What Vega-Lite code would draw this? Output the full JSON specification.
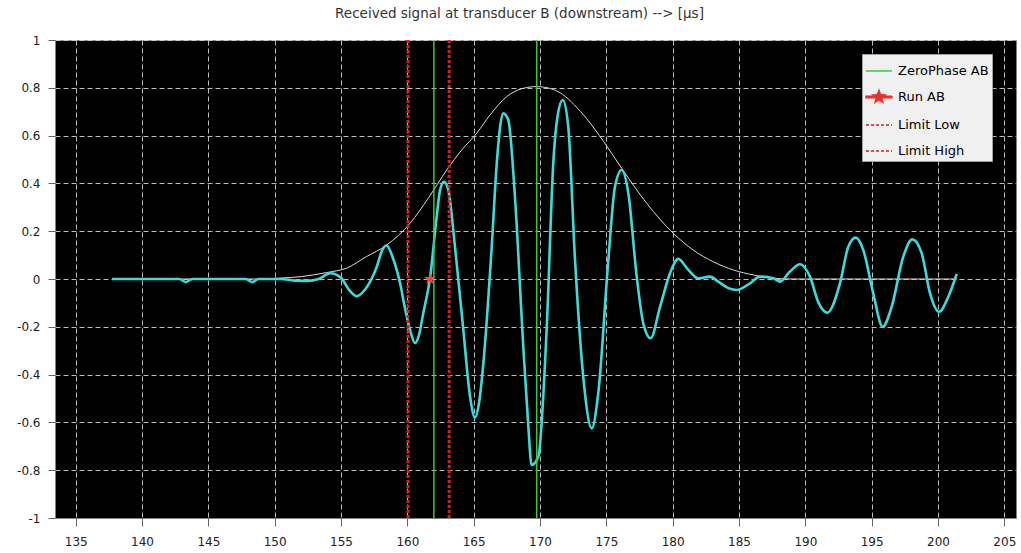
{
  "$schema": "https://vega.github.io/schema/vega-lite/v6.json",
  "width": 961,
  "height": 478,
  "autosize": {"type": "none"},
  "padding": {"left": 55, "top": 40, "right": 5, "bottom": 35},
  "background": "#ffffff",
  "title": {
    "text": "Received signal at transducer B (downstream) --> [µs]",
    "font": "DejaVu Sans",
    "fontSize": 13.5,
    "fontWeight": "normal",
    "color": "#333333",
    "offset": 14,
    "dx": -16,
    "anchor": "middle"
  },
  "config": {
    "view": {"fill": "#000000", "stroke": "#808080"},
    "axis": {
      "labelFont": "DejaVu Sans",
      "labelFontSize": 12,
      "labelColor": "#222222",
      "domainColor": "#808080",
      "tickColor": "#606060",
      "gridColor": "#d0d0d0",
      "gridDash": [5, 3],
      "gridWidth": 1,
      "gridOpacity": 0.9,
      "labelOverlap": false,
      "labelFlush": false,
      "labelBound": false
    }
  },
  "datasets": {
    "signal": [
      {"t": 137.74, "v": 0}, {"t": 142.8, "v": 0}, {"t": 143.3, "v": -0.013}, {"t": 143.8, "v": 0},
      {"t": 147.8, "v": 0}, {"t": 148.3, "v": -0.013}, {"t": 148.8, "v": 0}, {"t": 150.5, "v": 0},
      {"t": 151.5, "v": -0.007}, {"t": 152.5, "v": -0.008}, {"t": 153.3, "v": 0}, {"t": 154.2, "v": 0.024},
      {"t": 155.0, "v": 0.005}, {"t": 155.6, "v": -0.045}, {"t": 156.18, "v": -0.072}, {"t": 156.8, "v": -0.045},
      {"t": 157.3, "v": 0.0}, {"t": 157.69, "v": 0.05}, {"t": 158.1, "v": 0.12}, {"t": 158.44, "v": 0.14},
      {"t": 158.9, "v": 0.09}, {"t": 159.45, "v": -0.017}, {"t": 159.85, "v": -0.13}, {"t": 160.2, "v": -0.213},
      {"t": 160.58, "v": -0.268}, {"t": 160.85, "v": -0.24}, {"t": 161.2, "v": -0.143}, {"t": 161.71, "v": 0.004},
      {"t": 162.21, "v": 0.26}, {"t": 162.46, "v": 0.37}, {"t": 162.76, "v": 0.407}, {"t": 163.09, "v": 0.372},
      {"t": 163.59, "v": 0.135}, {"t": 164.22, "v": -0.213}, {"t": 164.7, "v": -0.48}, {"t": 165.1, "v": -0.58},
      {"t": 165.4, "v": -0.52}, {"t": 165.73, "v": -0.353}, {"t": 166.36, "v": 0.135}, {"t": 166.74, "v": 0.484},
      {"t": 167.0, "v": 0.64}, {"t": 167.23, "v": 0.693}, {"t": 167.61, "v": 0.665}, {"t": 168.11, "v": 0.344},
      {"t": 168.74, "v": -0.283}, {"t": 169.1, "v": -0.6}, {"t": 169.37, "v": -0.778}, {"t": 169.87, "v": -0.744},
      {"t": 170.5, "v": -0.213}, {"t": 171.0, "v": 0.484}, {"t": 171.35, "v": 0.69}, {"t": 171.71, "v": 0.749},
      {"t": 172.13, "v": 0.637}, {"t": 172.64, "v": 0.079}, {"t": 173.26, "v": -0.409}, {"t": 173.9, "v": -0.625},
      {"t": 174.39, "v": -0.478}, {"t": 175.15, "v": 0.079}, {"t": 175.65, "v": 0.386}, {"t": 176.16, "v": 0.456},
      {"t": 176.66, "v": 0.358}, {"t": 177.29, "v": 0.01}, {"t": 177.8, "v": -0.19}, {"t": 178.34, "v": -0.248},
      {"t": 179.05, "v": -0.116}, {"t": 179.8, "v": 0.024}, {"t": 180.42, "v": 0.084}, {"t": 181.18, "v": 0.038},
      {"t": 181.93, "v": 0.003}, {"t": 182.81, "v": 0.01}, {"t": 183.44, "v": -0.011}, {"t": 184.2, "v": -0.038},
      {"t": 184.83, "v": -0.046}, {"t": 185.83, "v": -0.018}, {"t": 186.58, "v": 0.01}, {"t": 187.59, "v": 0.003},
      {"t": 188.09, "v": -0.011}, {"t": 188.84, "v": 0.031}, {"t": 189.6, "v": 0.062}, {"t": 190.35, "v": 0.01},
      {"t": 191.0, "v": -0.1}, {"t": 191.66, "v": -0.141}, {"t": 192.61, "v": -0.018}, {"t": 193.24, "v": 0.135},
      {"t": 193.8, "v": 0.173}, {"t": 194.37, "v": 0.121}, {"t": 195.12, "v": -0.06}, {"t": 195.83, "v": -0.2},
      {"t": 196.51, "v": -0.116}, {"t": 197.38, "v": 0.093}, {"t": 198.06, "v": 0.166}, {"t": 198.77, "v": 0.108},
      {"t": 199.4, "v": -0.06}, {"t": 200.08, "v": -0.137}, {"t": 200.78, "v": -0.074}, {"t": 201.41, "v": 0.021}
    ],
    "envelope": [
      {"t": 137.74, "v": 0}, {"t": 149.0, "v": 0}, {"t": 150.5, "v": 0.004}, {"t": 152.0, "v": 0.01},
      {"t": 153.9, "v": 0.027}, {"t": 155.4, "v": 0.045}, {"t": 156.9, "v": 0.093}, {"t": 158.44, "v": 0.142},
      {"t": 160.2, "v": 0.233}, {"t": 161.6, "v": 0.34}, {"t": 162.97, "v": 0.456}, {"t": 164.1, "v": 0.54},
      {"t": 165.23, "v": 0.61}, {"t": 166.23, "v": 0.686}, {"t": 167.49, "v": 0.763}, {"t": 168.74, "v": 0.798},
      {"t": 169.75, "v": 0.805}, {"t": 171.0, "v": 0.793}, {"t": 171.71, "v": 0.772}, {"t": 172.6, "v": 0.728},
      {"t": 173.5, "v": 0.672}, {"t": 174.8, "v": 0.575}, {"t": 176.16, "v": 0.463}, {"t": 178.04, "v": 0.317},
      {"t": 180.05, "v": 0.191}, {"t": 181.55, "v": 0.121}, {"t": 183.06, "v": 0.072}, {"t": 184.57, "v": 0.038},
      {"t": 186.08, "v": 0.017}, {"t": 187.59, "v": 0.003}, {"t": 189.0, "v": 0}, {"t": 201.41, "v": 0}
    ]
  },
  "layer": [
    {
      "data": {"name": "envelope"},
      "mark": {"type": "line", "color": "#dcdcdc", "strokeWidth": 1, "interpolate": "monotone"},
      "encoding": {
        "x": {
          "field": "t", "type": "quantitative",
          "scale": {"domain": [133.44, 205.88], "nice": false, "zero": false},
          "axis": {"title": null, "values": [135, 140, 145, 150, 155, 160, 165, 170, 175, 180, 185, 190, 195, 200, 205], "tickSize": 8, "labelPadding": 10}
        },
        "y": {
          "field": "v", "type": "quantitative",
          "scale": {"domain": [-1, 1], "nice": false, "zero": false},
          "axis": {"title": null, "values": [-1, -0.8, -0.6, -0.4, -0.2, 0, 0.2, 0.4, 0.6, 0.8, 1], "tickSize": 7, "labelPadding": 8, "labelExpr": "replace(format(datum.value, '~g'), '\u2212', '-')"}
        }
      }
    },
    {
      "data": {"name": "signal"},
      "mark": {"type": "line", "color": "#3fd9d9", "strokeWidth": 2.6, "interpolate": "monotone"},
      "encoding": {
        "x": {"field": "t", "type": "quantitative"},
        "y": {"field": "v", "type": "quantitative"}
      }
    },
    {
      "data": {"values": [{"name": "ZeroPhase AB", "t": 162.0}, {"name": "ZeroPhase AB", "t": 169.75}]},
      "mark": {"type": "rule", "strokeWidth": 1.5},
      "encoding": {
        "x": {"field": "t", "type": "quantitative"},
        "strokeDash": {
          "field": "name", "type": "nominal",
          "scale": {"domain": ["ZeroPhase AB", "Run AB", "Limit Low", "Limit High"], "range": [[1, 0], [1, 0], [3, 2], [3, 2]]}
        },
        "color": {
          "field": "name", "type": "nominal",
          "scale": {"domain": ["ZeroPhase AB", "Run AB", "Limit Low", "Limit High"], "range": ["#3cc83c", "#e8302a", "#d42020", "#d42020"]},
          "legend": {
            "title": null,
            "orient": "none",
            "legendX": 807,
            "legendY": 14,
            "direction": "vertical",
            "fillColor": "#f0f0f0",
            "strokeColor": "#a0a0a0",
            "padding": 3,
            "symbolType": "M-1,0H1",
            "symbolSize": 676,
            "symbolStrokeWidth": 1.5,
            "rowPadding": 5,
            "labelFont": "DejaVu Sans",
            "labelFontSize": 13,
            "labelColor": "#000000",
            "labelOffset": 5,
            "labelExpr": "datum.label + '\u2003'",
            "encode": {
              "symbols": {
                "update": {
                  "shape": {"signal": "datum.value === 'Run AB' ? 'M-1,-0.055H1V0.055H-1ZM0,-0.5L0.123,-0.17L0.476,-0.155L0.2,0.065L0.294,0.405L0,0.21L-0.294,0.405L-0.2,0.065L-0.476,-0.155L-0.123,-0.17Z' : 'M-1,0H1'"},
                  "fill": {"signal": "datum.value === 'Run AB' ? '#f03030' : 'transparent'"}
                }
              }
            }
          }
        }
      }
    },
    {
      "data": {"values": [{"name": "Limit Low", "t": 160.05}, {"name": "Limit High", "t": 163.15}]},
      "mark": {"type": "rule", "strokeWidth": 3},
      "encoding": {
        "x": {"field": "t", "type": "quantitative"},
        "strokeDash": {"field": "name", "type": "nominal"},
        "color": {"field": "name", "type": "nominal"}
      }
    },
    {
      "data": {"values": [{"name": "Run AB", "t": 161.7, "v": 0.0}]},
      "mark": {"type": "point", "shape": "M0,-1L0.235,-0.324L0.951,-0.309L0.38,0.124L0.588,0.809L0,0.4L-0.588,0.809L-0.38,0.124L-0.951,-0.309L-0.235,-0.324Z", "filled": true, "color": "#ff4040", "size": 150, "opacity": 1},
      "encoding": {
        "x": {"field": "t", "type": "quantitative"},
        "y": {"field": "v", "type": "quantitative"}
      }
    }
  ]
}
